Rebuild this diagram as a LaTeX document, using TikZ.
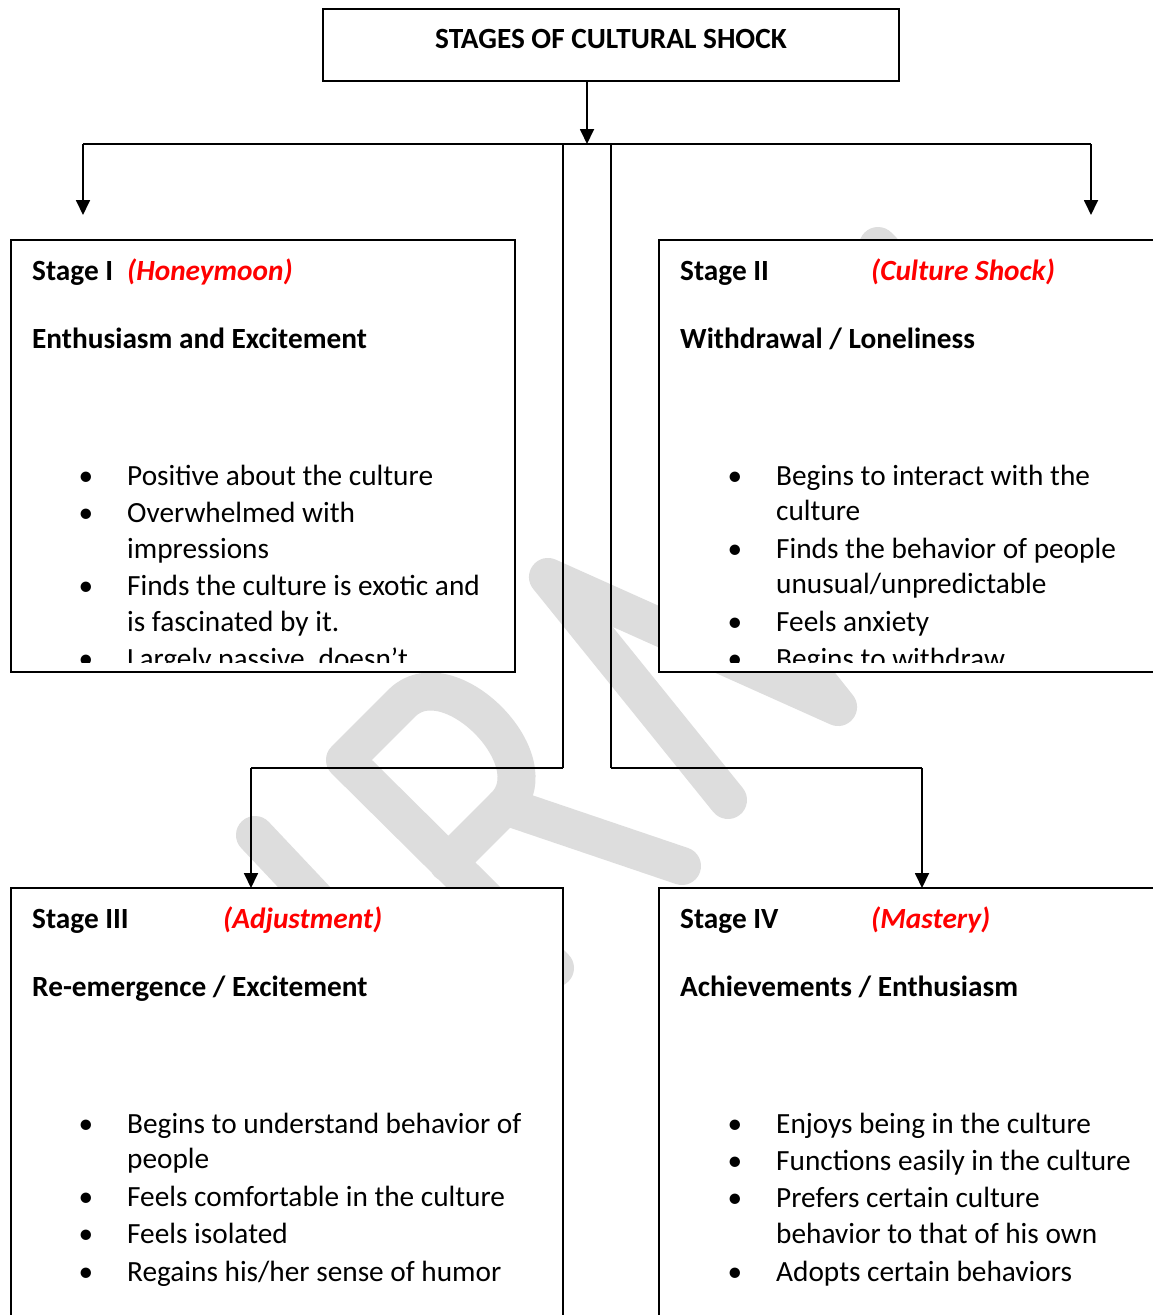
\documentclass[tikz,border=0pt]{standalone}
\usepackage{fontspec}
\setmainfont{Carlito}
\usetikzlibrary{arrows.meta}
\definecolor{wm}{RGB}{221,221,221}
\definecolor{redlab}{RGB}{255,0,0}
\begin{document}
\begin{tikzpicture}[x=1pt,y=-1pt,
  box/.style={draw=black,line width=2pt,fill=white,rectangle,inner sep=0pt,outer sep=0pt,anchor=north west},
  thinline/.style={line width=1.3pt},
  arr/.style={line width=1.8pt,-{Triangle[width=14pt,length=15pt]}},
  txt/.style={anchor=base west,inner sep=0pt,font=\fontsize{29.3}{36}\selectfont},
  hd/.style={anchor=base west,inner sep=0pt,font=\fontsize{29.3}{36}\selectfont\bfseries},
  lab/.style={anchor=base west,inner sep=0pt,font=\fontsize{29.3}{36}\selectfont\bfseries\itshape,text=redlab},
  bul/.style={anchor=base,inner sep=0pt,font=\fontsize{29.3}{36}\selectfont},
  wmark/.style={draw=wm,line width=38pt,line cap=round,line join=round}
]
\useasboundingbox (0,0) rectangle (1153,1315);
\fill[white] (0,0) rectangle (1153,1315);

% watermark
\draw[wmark] (255,835) -- (420,1010);
\draw[wmark] (555,968) -- (345,760) -- (402,703) .. controls (448,657) and (551,760) .. (505,806) -- (448,863);
\draw[wmark] (505,806) -- (682,866);
\draw[wmark] (728,800) -- (548,577) -- (838,707) -- (710,546);
\draw[wmark] (878,246) -- (960,330);

% boxes
\node[box,minimum width=576pt,minimum height=72pt] (title) at (323,9) {};
\node[box,minimum width=504pt,minimum height=432pt] (s1) at (11,240) {};
\node[box,minimum width=520pt,minimum height=432pt] (s2) at (659,240) {};
\node[box,minimum width=552pt,minimum height=450pt] (s3) at (11,888) {};
\node[box,minimum width=520pt,minimum height=450pt] (s4) at (659,888) {};

% connector points
\coordinate (ts) at (587,81);
\coordinate (hub) at (587,144);
\coordinate (hl) at (83,144);
\coordinate (hr) at (1091,144);
\coordinate (al) at (83,215);
\coordinate (ar) at (1091,215);
\coordinate (ml) at (563,144);
\coordinate (mr) at (611,144);
\coordinate (bl) at (563,768);
\coordinate (br) at (611,768);
\coordinate (kl) at (251,768);
\coordinate (kr) at (922,768);
\coordinate (tl) at (251,888);
\coordinate (tr) at (922,888);

\draw[line width=2pt] (hl) -- (hr);
\draw[arr] (ts) -- (hub);
\draw[arr] (hl) -- (al);
\draw[arr] (hr) -- (ar);
\draw[thinline] (ml) -- (bl);
\draw[thinline] (mr) -- (br);
\draw[line width=1.6pt] (bl) -- (kl);
\draw[line width=1.6pt] (br) -- (kr);
\draw[arr] (kl) -- (tl);
\draw[arr] (kr) -- (tr);

% title
\node[anchor=base,inner sep=0pt,font=\fontsize{29.3}{36}\selectfont\bfseries] (ttl) at (611,48.5) {STAGES OF CULTURAL SHOCK};

% Stage I
\node[hd] (s1a) at (32,280) {Stage I};
\node[lab] (s1b) at (127,280) {(Honeymoon)};
\node[hd] (s1c) at (32,348) {Enthusiasm and Excitement};
\node[bul] (s1p1) at (86,485) {•};
\node[bul] (s1p2) at (86,522) {•};
\node[bul] (s1p3) at (86,595) {•};
\node[txt] (s1t1) at (127,485) {Positive about the culture};
\node[txt] (s1t2) at (127,522) {Overwhelmed with};
\node[txt] (s1t3) at (127,558) {impressions};
\node[txt] (s1t4) at (127,595) {Finds the culture is exotic and};
\node[txt] (s1t5) at (127,631) {is fascinated by it.};
\begin{scope}
\clip (20,640) rectangle (505,662);
\node[bul] (s1p4) at (86,668) {•};
\node[txt] (s1t6) at (127,668) {Largely passive, doesn’t};
\end{scope}

% Stage II
\node[hd] (s2a) at (680,280) {Stage II};
\node[lab] (s2b) at (871,280) {(Culture Shock)};
\node[hd] (s2c) at (680,348) {Withdrawal / Loneliness};
\node[bul] (s2p1) at (735,485) {•};
\node[bul] (s2p2) at (735,558) {•};
\node[bul] (s2p3) at (735,631) {•};
\node[txt] (s2t1) at (776,485) {Begins to interact with the};
\node[txt] (s2t2) at (776,520) {culture};
\node[txt] (s2t3) at (776,558) {Finds the behavior of people};
\node[txt] (s2t4) at (776,593) {unusual/unpredictable};
\node[txt] (s2t5) at (776,631) {Feels anxiety};
\begin{scope}
\clip (668,640) rectangle (1153,662);
\node[bul] (s2p4) at (735,668) {•};
\node[txt] (s2t6) at (776,668) {Begins to withdraw};
\end{scope}

% Stage III
\node[hd] (s3a) at (32,928) {Stage III};
\node[lab] (s3b) at (223,928) {(Adjustment)};
\node[hd] (s3c) at (32,996) {Re-emergence / Excitement};
\node[bul] (s3p1) at (86,1133) {•};
\node[bul] (s3p2) at (86,1206) {•};
\node[bul] (s3p3) at (86,1243) {•};
\node[bul] (s3p4) at (86,1281) {•};
\node[txt] (s3t1) at (127,1133) {Begins to understand behavior of};
\node[txt] (s3t2) at (127,1168) {people};
\node[txt] (s3t3) at (127,1206) {Feels comfortable in the culture};
\node[txt] (s3t4) at (127,1243) {Feels isolated};
\node[txt] (s3t5) at (127,1281) {Regains his/her sense of humor};

% Stage IV
\node[hd] (s4a) at (680,928) {Stage IV};
\node[lab] (s4b) at (871,928) {(Mastery)};
\node[hd] (s4c) at (680,996) {Achievements / Enthusiasm};
\node[bul] (s4p1) at (735,1133) {•};
\node[bul] (s4p2) at (735,1170) {•};
\node[bul] (s4p3) at (735,1207) {•};
\node[bul] (s4p4) at (735,1281) {•};
\node[txt] (s4t1) at (776,1133) {Enjoys being in the culture};
\node[txt] (s4t2) at (776,1170) {Functions easily in the culture};
\node[txt] (s4t3) at (776,1207) {Prefers certain culture};
\node[txt] (s4t4) at (776,1243) {behavior to that of his own};
\node[txt] (s4t5) at (776,1281) {Adopts certain behaviors};
\end{tikzpicture}
\end{document}
